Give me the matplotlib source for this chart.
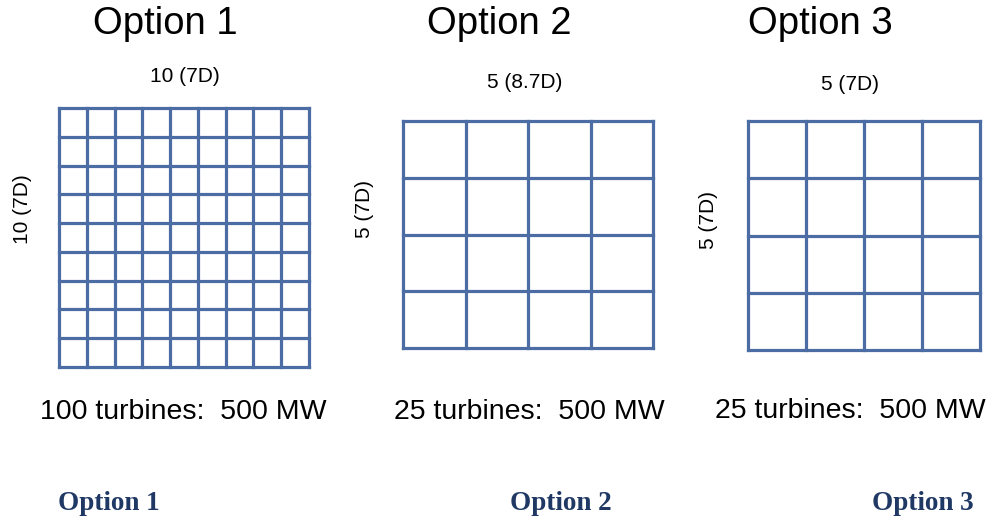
import matplotlib.pyplot as plt
import numpy as np

# Layout data for the three wind-farm options
titles = ['Option 1', 'Option 2', 'Option 3']
cells_per_side = [9, 4, 4]
top_labels = ['10 (7D)', '5 (8.7D)', '5 (7D)']
side_labels = ['10 (7D)', '5 (7D)', '5 (7D)']
turbines = [100, 25, 25]
capacity_mw = [500, 500, 500]

# Pixel layout (figure is drawn in pixel coordinates)
boxes = [(59, 108, 309, 367), (403, 121, 653, 348), (748, 121, 980, 350)]
title_pos = [(165, 24), (499, 24), (820, 24)]
top_pos = [(185, 76), (525, 83), (850, 84)]
side_pos = [(22, 209), (365, 209), (708, 220)]
caption_pos = [(183, 412), (529, 412), (850, 411)]
footer_pos = [(109, 503), (561, 503), (923, 503)]

line_color = '#4C6CA4'
sans = 'Liberation Sans'

fig = plt.figure(figsize=(9.95, 5.19), dpi=100)
ax = fig.add_axes([0, 0, 1, 1])
ax.set_xlim(0, 995)
ax.set_ylim(519, 0)
ax.axis('off')

for i in range(3):
    x0, y0, x1, y1 = boxes[i]
    n = cells_per_side[i]
    xs = np.linspace(x0, x1, n + 1)
    ys = np.linspace(y0, y1, n + 1)
    ax.vlines(xs, y0, y1, color=line_color, linewidth=2.3, capstyle='projecting')
    ax.hlines(ys, x0, x1, color=line_color, linewidth=2.3, capstyle='projecting')

    ax.text(*title_pos[i], titles[i], ha='center', va='center',
            fontsize=27.5, family=sans)
    ax.text(*top_pos[i], top_labels[i], ha='center', va='center',
            fontsize=15, family=sans)
    ax.text(*side_pos[i], side_labels[i], ha='center', va='center',
            fontsize=15, family=sans, rotation=90)
    ax.text(*caption_pos[i], f'{turbines[i]} turbines:  {capacity_mw[i]} MW',
            ha='center', va='center', fontsize=20.5, family=sans)
    ax.text(*footer_pos[i], titles[i], ha='center', va='center',
            fontsize=19.5, fontweight='bold', family='Liberation Serif',
            color='#1F3864')

fig.savefig('out.png', dpi=100)
